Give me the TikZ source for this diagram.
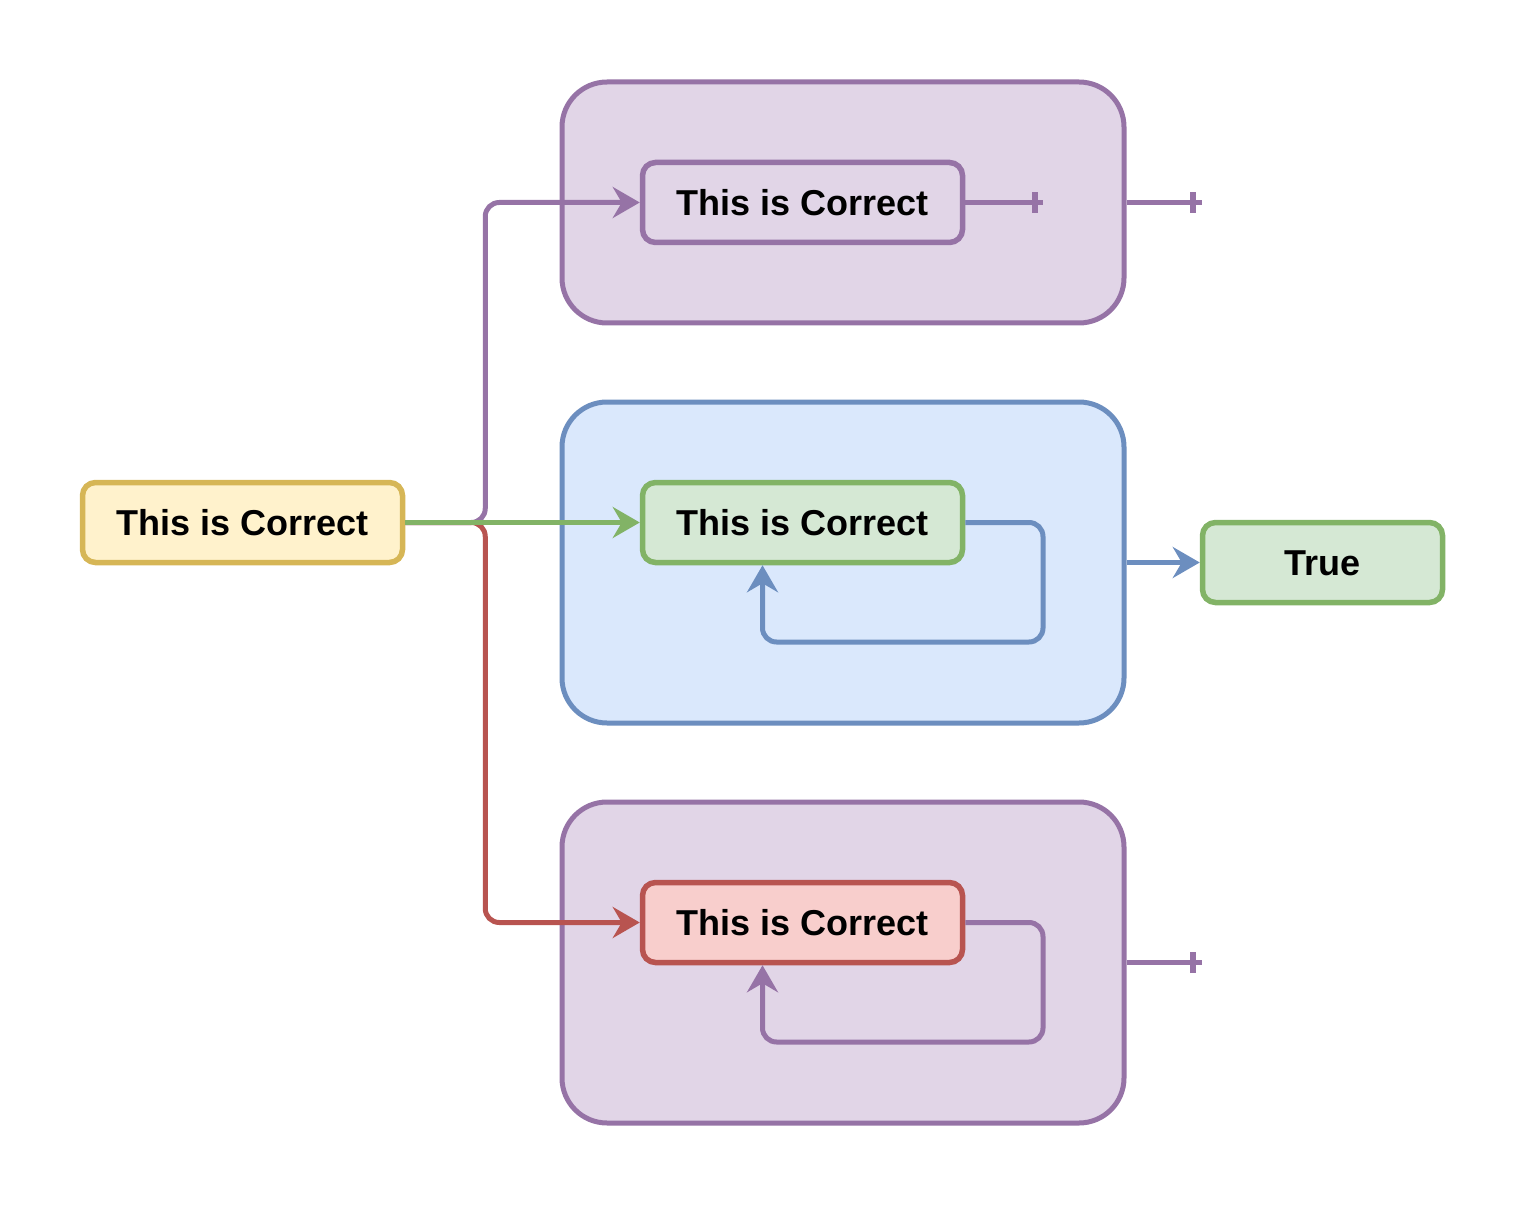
\documentclass[tikz,border=0pt]{standalone}
\usepackage{fontspec}
\setmainfont{Liberation Sans}
\usetikzlibrary{arrows.meta}
\definecolor{pstroke}{HTML}{9673A6}\definecolor{pfill}{HTML}{E1D5E7}
\definecolor{bstroke}{HTML}{6C8EBF}\definecolor{bfill}{HTML}{DAE8FC}
\definecolor{gstroke}{HTML}{82B366}\definecolor{gfill}{HTML}{D5E8D4}
\definecolor{rstroke}{HTML}{B85450}\definecolor{rfill}{HTML}{F8CECC}
\definecolor{ystroke}{HTML}{D6B656}\definecolor{yfill}{HTML}{FFF2CC}
\tikzset{
  box/.style={draw, line width=5.5pt, rounded corners=13pt, minimum width=320pt, minimum height=80pt,
    inner sep=0pt, text height=26pt, text depth=0pt,
    font=\fontsize{36}{43}\selectfont\bfseries},
  cont/.style={draw, line width=5pt, rounded corners=45pt, minimum width=562pt, inner sep=0pt},
  edge/.style={line width=5pt, rounded corners=14pt},
  arr/.style={-{Stealth[length=27pt,width=31pt,inset=9pt]}},
  teebar/.style={line width=6pt}
}
\begin{document}
\begin{tikzpicture}[x=1pt,y=-1pt]
\useasboundingbox (0,0) rectangle (1526,1206);
% containers
\node[cont, draw=pstroke, fill=pfill, minimum height=241pt] (ct) at (843,202.5) {};
\node[cont, draw=bstroke, fill=bfill, minimum height=321pt] (cm) at (843,562.5) {};
\node[cont, draw=pstroke, fill=pfill, minimum height=321pt] (cb) at (843,962.5) {};
% boxes
\node[box, draw=ystroke, fill=yfill] (y) at (242.5,522.5) {This is Correct};
\node[box, draw=pstroke, fill=pfill] (t) at (802.5,202.5) {This is Correct};
\node[box, draw=gstroke, fill=gfill] (m) at (802.5,522.5) {This is Correct};
\node[box, draw=rstroke, fill=rfill] (b) at (802.5,922.5) {This is Correct};
\node[box, draw=gstroke, fill=gfill, minimum width=240pt] (tr) at (1322.5,562.5) {True};
% coordinates
\coordinate (tee1) at (1043,202.5);
\coordinate (tee2) at (1202,202.5);
\coordinate (tee3) at (1202,962.5);
\coordinate (lm) at (1043,642);
\coordinate (lb) at (1043,1042);
% edges from yellow
\draw[edge, draw=pstroke, arr] (y.east) -- ++(80,0) |- (t.west);
\draw[edge, draw=rstroke, arr] (y.east) -- ++(80,0) |- (b.west);
\draw[edge, draw=gstroke, arr] (y.east) -- (m.west);
% tees
\draw[edge, draw=pstroke] (t.east) -- (tee1);
\draw[teebar, draw=pstroke] ([xshift=-8pt,yshift=-10.5pt]tee1) -- ([xshift=-8pt,yshift=10.5pt]tee1);
\draw[edge, draw=pstroke] (ct.east) -- (tee2);
\draw[teebar, draw=pstroke] ([xshift=-9pt,yshift=-10.5pt]tee2) -- ([xshift=-9pt,yshift=10.5pt]tee2);
\draw[edge, draw=pstroke] (cb.east) -- (tee3);
\draw[teebar, draw=pstroke] ([xshift=-9pt,yshift=-10.5pt]tee3) -- ([xshift=-9pt,yshift=10.5pt]tee3);
% blue to True
\draw[edge, draw=bstroke, arr] (cm.east) -- (tr.west);
% loops
\draw[edge, draw=bstroke, arr] (m.east) -| (lm) -| ([xshift=-40pt]m.south);
\draw[edge, draw=pstroke, arr] (b.east) -| (lb) -| ([xshift=-40pt]b.south);
\end{tikzpicture}
\end{document}
